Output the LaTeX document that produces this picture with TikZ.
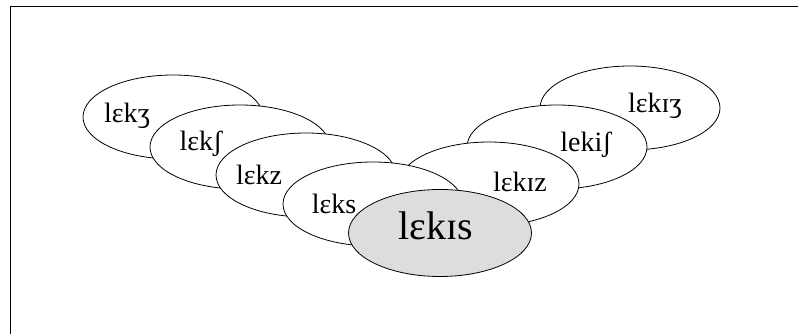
\documentclass[tikz,border=0pt]{standalone}
\usepackage{fontspec}
\setmainfont{Liberation Serif}
\usepackage{tikz}
\usetikzlibrary{shapes}
\definecolor{shade}{RGB}{221,221,221}

\tikzset{
  form/.style={ellipse,draw,line width=0.8pt,fill=white,inner sep=0pt,
    minimum width=180pt,minimum height=84pt},
  word/.style={font=\fontsize{28}{30}\selectfont,inner sep=0pt}
}

\begin{document}
\begin{tikzpicture}[x=1pt,y=-1pt]
\useasboundingbox (0,0) rectangle (798,334);
\begin{scope}
\clip (0,0) rectangle (798,334);
\draw[line width=1.5pt] (10.5,6.5) rectangle (810,345);
\end{scope}
% right branch, back to front
\node[form] (iZh) at (630,108) {};
\node[word] (iZh-t) at (655,106) {lɛkɪʒ};
\node[form] (iSh) at (557,147) {};
\node[word] (iSh-t) at (586,145) {lekiʃ};
\node[form] (iZ) at (489,184) {};
\node[word] (iZ-t) at (520,182) {lɛkɪz};
% left branch, back to front
\node[form] (Zh) at (173,117) {};
\node[word] (Zh-t) at (127,116) {lɛkʒ};
\node[form] (Sh) at (240,147) {};
\node[word] (Sh-t) at (201,144) {lɛkʃ};
\node[form] (Z) at (306,175) {};
\node[word] (Z-t) at (259,175) {lɛkz};
\node[form] (S) at (373,204) {};
\node[word] (S-t) at (334,204) {lɛks};
% the base form on top
\node[form,fill=shade,minimum width=183pt,minimum height=87pt] (base) at (440,233) {};
\node[word,font=\fontsize{40}{42}\selectfont] (base-t) at (436,226) {lɛkɪs};
\end{tikzpicture}
\end{document}
